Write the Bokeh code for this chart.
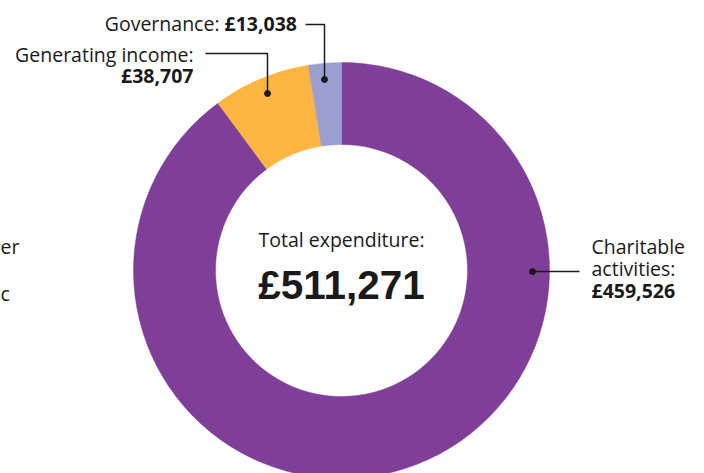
import math
from bokeh.plotting import figure
from bokeh.models import Range1d, ColumnDataSource
from bokeh.core.properties import value
from bokeh.embed import file_html
from bokeh.resources import INLINE

# ---- data ----
categories = ["Charitable activities", "Generating income", "Governance"]
amounts = [459526, 38707, 13038]
colors = ["#7f3f98", "#fbb540", "#9a9fd0"]
total_label = "£511,271"
center_title = "Total expenditure:"

# ---- layout helpers (reference pixel -> data coords, donut centre at 0,0) ----
CX, CY = 341, 270
def P(px, py):
    return px - CX, CY - py

W, H = 704, 473
p = figure(width=W, height=H, output_backend="svg", toolbar_location=None,
           x_range=Range1d(0 - CX, W - CX), y_range=Range1d(CY - H, CY),
           x_axis_type=None, y_axis_type=None, min_border=0)
p.grid.visible = False
p.outline_line_color = None
p.background_fill_color = "white"

total = sum(amounts)
starts, ends = [], []
cum = 0.0
for a in amounts:
    starts.append(math.pi / 2 - 2 * math.pi * cum / total)
    cum += a
    ends.append(math.pi / 2 - 2 * math.pi * cum / total)

src = ColumnDataSource(dict(start=starts, end=ends, color=colors, cat=categories))
p.annular_wedge(x=0, y=0, inner_radius=126, outer_radius=208, start_angle="start",
                end_angle="end", direction="clock", fill_color="color",
                line_color="color", line_width=0.5, source=src)

FONT = value("Open Sans")
TXT = "#1a1a1a"
FS = "19.5px"
DY = -7  # baseline correction

def label(px, py, s, align="left", bold=False, size=FS, font=FONT):
    x, y = P(px, py + DY)
    p.text(x=[x], y=[y], text=[s], text_align=align, text_baseline="alphabetic",
           text_font=font, text_font_size=size, text_color=TXT,
           text_font_style="bold" if bold else "normal")

def fmt(v):
    return "£{:,}".format(v)

# centre text
label(341, 246, center_title, align="center")
label(341, 291, total_label, align="center", bold=True, size="40.5px",
      font=value("Liberation Sans"))

# Governance
label(219, 30, categories[2] + ":", align="right")
label(224, 30, fmt(amounts[2]), bold=True)
# Generating income
label(193, 61, categories[1] + ":", align="right")
label(193, 82, fmt(amounts[1]), align="right", bold=True)
# Charitable activities
label(591, 253, "Charitable")
label(591, 275, "activities:")
label(591, 297, fmt(amounts[0]), bold=True)

# fragments of neighbouring labels cut by the left edge
label(0, 253, "er")
label(0, 300, "c")

# leader lines
def leader(pts):
    xs = [P(a, b)[0] for a, b in pts]
    ys = [P(a, b)[1] for a, b in pts]
    p.line(xs, ys, line_color=TXT, line_width=1.5)
    p.scatter([xs[-1]], [ys[-1]], size=6, fill_color=TXT, line_color=TXT)

leader([(305, 24), (324, 24), (324, 79)])
leader([(205, 53), (267, 53), (267, 93)])
leader([(579, 271), (532, 271)])

open("out.html", "w").write(file_html(p, INLINE))
